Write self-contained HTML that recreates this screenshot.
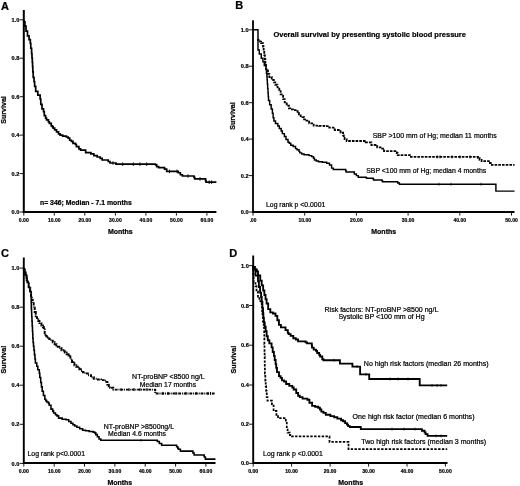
<!DOCTYPE html>
<html><head><meta charset="utf-8"><title>Survival curves</title>
<style>
html,body{margin:0;padding:0;background:#fff;}
body{width:520px;height:486px;overflow:hidden;font-family:"Liberation Sans",sans-serif;}
svg{display:block;}
svg text{font-family:"Liberation Sans",sans-serif;fill:#000;stroke:#000;stroke-width:0.22px;}
</style></head><body>
<svg width="520" height="486" viewBox="0 0 520 486">
<defs><filter id="soft" x="0" y="0" width="520" height="486" filterUnits="userSpaceOnUse"><feGaussianBlur stdDeviation="0.42"/></filter></defs>
<rect width="520" height="486" fill="#fff"/>
<g filter="url(#soft)">
<text x="1.0" y="9.5" font-size="11.0" font-weight="bold">A</text>
<path d="M23.8,10.0V212.0H216.4" fill="none" stroke="#000" stroke-width="2.0" stroke-linejoin="miter"/>
<path d="M19.6,19.8H23.8" stroke="#000" stroke-width="0.9"/>
<text x="19.4" y="21.9" font-size="6.0" font-weight="bold" text-anchor="end" textLength="7.8" lengthAdjust="spacingAndGlyphs" stroke="#000" stroke-width="0.2">1.0</text>
<path d="M19.6,58.2H23.8" stroke="#000" stroke-width="0.9"/>
<text x="19.4" y="60.3" font-size="6.0" font-weight="bold" text-anchor="end" textLength="7.8" lengthAdjust="spacingAndGlyphs" stroke="#000" stroke-width="0.2">0.8</text>
<path d="M19.6,96.7H23.8" stroke="#000" stroke-width="0.9"/>
<text x="19.4" y="98.8" font-size="6.0" font-weight="bold" text-anchor="end" textLength="7.8" lengthAdjust="spacingAndGlyphs" stroke="#000" stroke-width="0.2">0.6</text>
<path d="M19.6,135.1H23.8" stroke="#000" stroke-width="0.9"/>
<text x="19.4" y="137.2" font-size="6.0" font-weight="bold" text-anchor="end" textLength="7.8" lengthAdjust="spacingAndGlyphs" stroke="#000" stroke-width="0.2">0.4</text>
<path d="M19.6,173.6H23.8" stroke="#000" stroke-width="0.9"/>
<text x="19.4" y="175.7" font-size="6.0" font-weight="bold" text-anchor="end" textLength="7.8" lengthAdjust="spacingAndGlyphs" stroke="#000" stroke-width="0.2">0.2</text>
<path d="M19.6,212.0H23.8" stroke="#000" stroke-width="0.9"/>
<text x="19.4" y="214.1" font-size="6.0" font-weight="bold" text-anchor="end" textLength="7.8" lengthAdjust="spacingAndGlyphs" stroke="#000" stroke-width="0.2">0.0</text>
<path d="M23.8,212.0V215.6" stroke="#000" stroke-width="0.9"/>
<text x="23.8" y="222.1" font-size="6.0" font-weight="bold" text-anchor="middle" textLength="10.0" lengthAdjust="spacingAndGlyphs" stroke="#000" stroke-width="0.2">0.00</text>
<path d="M54.3,212.0V215.6" stroke="#000" stroke-width="0.9"/>
<text x="54.3" y="222.1" font-size="6.0" font-weight="bold" text-anchor="middle" textLength="12.6" lengthAdjust="spacingAndGlyphs" stroke="#000" stroke-width="0.2">10.00</text>
<path d="M84.8,212.0V215.6" stroke="#000" stroke-width="0.9"/>
<text x="84.8" y="222.1" font-size="6.0" font-weight="bold" text-anchor="middle" textLength="12.6" lengthAdjust="spacingAndGlyphs" stroke="#000" stroke-width="0.2">20.00</text>
<path d="M115.4,212.0V215.6" stroke="#000" stroke-width="0.9"/>
<text x="115.4" y="222.1" font-size="6.0" font-weight="bold" text-anchor="middle" textLength="12.6" lengthAdjust="spacingAndGlyphs" stroke="#000" stroke-width="0.2">30.00</text>
<path d="M145.9,212.0V215.6" stroke="#000" stroke-width="0.9"/>
<text x="145.9" y="222.1" font-size="6.0" font-weight="bold" text-anchor="middle" textLength="12.6" lengthAdjust="spacingAndGlyphs" stroke="#000" stroke-width="0.2">40.00</text>
<path d="M176.4,212.0V215.6" stroke="#000" stroke-width="0.9"/>
<text x="176.4" y="222.1" font-size="6.0" font-weight="bold" text-anchor="middle" textLength="12.6" lengthAdjust="spacingAndGlyphs" stroke="#000" stroke-width="0.2">50.00</text>
<path d="M206.9,212.0V215.6" stroke="#000" stroke-width="0.9"/>
<text x="206.9" y="222.1" font-size="6.0" font-weight="bold" text-anchor="middle" textLength="12.6" lengthAdjust="spacingAndGlyphs" stroke="#000" stroke-width="0.2">60.00</text>
<text x="6.2" y="110.0" font-size="7.1" font-weight="bold" text-anchor="middle" textLength="27.6" lengthAdjust="spacingAndGlyphs" transform="rotate(-90 6.2 110.0)">Survival</text>
<text x="120.3" y="233.8" font-size="7.0" font-weight="bold" text-anchor="middle" textLength="24.8" lengthAdjust="spacingAndGlyphs">Months</text>
<path d="M23.80,19.80L23.80,21.90L24.90,21.90L24.90,26.11L26.01,26.11L26.01,31.06L27.50,31.06L27.50,33.90L27.50,35.94L29.03,35.94L29.03,39.69L30.30,39.69L30.30,41.40L30.30,43.26L30.78,43.26L30.78,48.26L31.60,48.26L31.60,51.40L31.60,53.60L31.96,53.60L31.96,57.90L32.30,57.90L32.30,60.00L32.30,62.30L32.58,62.30L32.58,66.64L32.82,66.64L32.82,71.84L33.20,71.84L33.20,75.00L33.20,77.43L34.04,77.43L34.04,81.59L34.64,81.59L34.64,86.41L35.70,86.41L35.70,89.50L35.70,91.30L37.81,91.30L37.81,95.05L40.10,95.05L40.10,97.00L40.10,98.98L40.80,98.98L40.80,104.33L42.00,104.33L42.00,107.70L42.00,108.85L43.50,108.85L43.50,110.00L43.50,111.55L44.29,111.55L44.29,115.65L45.60,115.65L45.60,118.20L46.51,118.20L46.51,119.97L48.41,119.97L48.41,121.90L49.40,121.90L49.40,123.40L51.25,123.40L51.25,125.90L52.50,125.90L52.50,126.90L53.13,126.90L53.13,128.17L54.64,128.17L54.64,129.91L56.53,129.91L56.53,131.95L58.52,131.95L58.52,133.90L60.10,133.90L60.10,135.10L60.70,135.10L62.66,135.10L62.66,136.09L66.41,136.09L66.41,137.00L68.20,137.00L68.20,138.03L69.70,138.03L69.70,140.23L71.40,140.23L71.40,141.40L73.01,141.40L73.01,143.39L75.51,143.39L75.51,144.50L76.40,144.50L76.40,146.70L78.90,146.70L78.90,148.90L80.57,148.90L80.57,150.11L85.67,150.11L85.67,152.59L90.89,152.59L90.89,153.90L92.70,153.90L93.85,153.90L93.85,155.70L95.00,155.70L97.20,155.70L97.20,157.00L99.40,157.00L100.23,157.00L100.23,158.31L102.13,158.31L102.13,160.00L103.20,160.00L108.20,160.00L108.20,161.50L110.00,161.50L110.00,163.00L115.00,163.00L116.00,163.00L116.00,164.20L117.00,164.20L155.50,164.20L155.50,164.87L156.72,164.87L156.72,166.57L158.60,166.57L158.60,167.60L163.70,167.60L164.53,167.60L164.53,169.06L166.68,169.06L166.68,171.40L168.00,171.40L177.40,171.40L178.26,171.40L178.26,172.76L180.37,172.76L180.37,174.76L182.42,174.76L182.42,176.00L183.20,176.00L194.00,176.00L194.00,177.45L194.70,177.45L194.70,178.90L205.60,178.90L205.60,180.55L206.00,180.55L206.00,182.20L216.40,182.20" fill="none" stroke="#000" stroke-width="1.7" stroke-linejoin="miter"/>
<path d="M113.0,161.2V164.8M122.7,162.4V166.0M133.3,162.4V166.0M139.9,162.4V166.0M146.7,162.4V166.0M169.5,169.6V173.2M177.0,169.6V173.2M188.0,174.2V177.8M200.0,177.1V180.7M209.2,180.4V184.0M211.6,180.4V184.0" stroke="#000" stroke-width="0.9" fill="none"/>
<text x="40.0" y="205.0" font-size="6.9" font-weight="bold" textLength="91.8" lengthAdjust="spacingAndGlyphs">n= 346; Median - 7.1 months</text>
<text x="235.2" y="9.4" font-size="11.0" font-weight="bold">B</text>
<path d="M253.0,20.2V212.0H514.5" fill="none" stroke="#000" stroke-width="1.8" stroke-linejoin="miter"/>
<path d="M248.8,29.8H253.0" stroke="#000" stroke-width="0.9"/>
<text x="248.6" y="31.9" font-size="6.0" font-weight="bold" text-anchor="end" textLength="7.8" lengthAdjust="spacingAndGlyphs" stroke="#000" stroke-width="0.2">1.0</text>
<path d="M248.8,66.2H253.0" stroke="#000" stroke-width="0.9"/>
<text x="248.6" y="68.3" font-size="6.0" font-weight="bold" text-anchor="end" textLength="7.8" lengthAdjust="spacingAndGlyphs" stroke="#000" stroke-width="0.2">0.8</text>
<path d="M248.8,102.7H253.0" stroke="#000" stroke-width="0.9"/>
<text x="248.6" y="104.8" font-size="6.0" font-weight="bold" text-anchor="end" textLength="7.8" lengthAdjust="spacingAndGlyphs" stroke="#000" stroke-width="0.2">0.6</text>
<path d="M248.8,139.1H253.0" stroke="#000" stroke-width="0.9"/>
<text x="248.6" y="141.2" font-size="6.0" font-weight="bold" text-anchor="end" textLength="7.8" lengthAdjust="spacingAndGlyphs" stroke="#000" stroke-width="0.2">0.4</text>
<path d="M248.8,175.6H253.0" stroke="#000" stroke-width="0.9"/>
<text x="248.6" y="177.7" font-size="6.0" font-weight="bold" text-anchor="end" textLength="7.8" lengthAdjust="spacingAndGlyphs" stroke="#000" stroke-width="0.2">0.2</text>
<path d="M248.8,212.0H253.0" stroke="#000" stroke-width="0.9"/>
<text x="248.6" y="214.1" font-size="6.0" font-weight="bold" text-anchor="end" textLength="7.8" lengthAdjust="spacingAndGlyphs" stroke="#000" stroke-width="0.2">0.0</text>
<path d="M253.0,212.0V215.6" stroke="#000" stroke-width="0.9"/>
<text x="253.0" y="222.1" font-size="6.0" font-weight="bold" text-anchor="middle" textLength="6.6" lengthAdjust="spacingAndGlyphs" stroke="#000" stroke-width="0.2">.00</text>
<path d="M304.7,212.0V215.6" stroke="#000" stroke-width="0.9"/>
<text x="304.7" y="222.1" font-size="6.0" font-weight="bold" text-anchor="middle" textLength="12.6" lengthAdjust="spacingAndGlyphs" stroke="#000" stroke-width="0.2">10.00</text>
<path d="M356.4,212.0V215.6" stroke="#000" stroke-width="0.9"/>
<text x="356.4" y="222.1" font-size="6.0" font-weight="bold" text-anchor="middle" textLength="12.6" lengthAdjust="spacingAndGlyphs" stroke="#000" stroke-width="0.2">20.00</text>
<path d="M408.1,212.0V215.6" stroke="#000" stroke-width="0.9"/>
<text x="408.1" y="222.1" font-size="6.0" font-weight="bold" text-anchor="middle" textLength="12.6" lengthAdjust="spacingAndGlyphs" stroke="#000" stroke-width="0.2">30.00</text>
<path d="M459.8,212.0V215.6" stroke="#000" stroke-width="0.9"/>
<text x="459.8" y="222.1" font-size="6.0" font-weight="bold" text-anchor="middle" textLength="12.6" lengthAdjust="spacingAndGlyphs" stroke="#000" stroke-width="0.2">40.00</text>
<path d="M511.5,212.0V215.6" stroke="#000" stroke-width="0.9"/>
<text x="511.5" y="222.1" font-size="6.0" font-weight="bold" text-anchor="middle" textLength="12.6" lengthAdjust="spacingAndGlyphs" stroke="#000" stroke-width="0.2">50.00</text>
<text x="235.4" y="116.0" font-size="7.1" font-weight="bold" text-anchor="middle" textLength="27.6" lengthAdjust="spacingAndGlyphs" transform="rotate(-90 235.4 116.0)">Survival</text>
<text x="383.7" y="233.8" font-size="7.0" font-weight="bold" text-anchor="middle" textLength="24.8" lengthAdjust="spacingAndGlyphs">Months</text>
<path d="M253.00,29.80L258.00,29.80L258.00,48.50L258.00,50.04L259.29,50.04L259.29,53.96L261.28,53.96L261.28,58.30L262.93,58.30L262.93,61.88L264.28,61.88L264.28,65.54L266.00,65.54L266.00,67.60L266.00,69.50L266.46,69.50L266.46,73.20L266.90,73.20L266.90,75.00L266.90,76.45L267.10,76.45L267.10,79.86L267.36,79.86L267.36,83.97L267.65,83.97L267.65,88.63L268.00,88.63L268.00,92.83L268.22,92.83L268.22,96.55L268.50,96.55L268.50,98.60L268.50,100.44L269.66,100.44L269.66,104.68L271.17,104.68L271.17,109.04L272.40,109.04L272.40,111.00L272.40,113.19L273.13,113.19L273.13,117.69L273.90,117.69L273.90,120.00L273.90,121.03L275.48,121.03L275.48,123.57L277.82,123.57L277.82,126.04L279.30,126.04L279.30,127.00L279.30,128.51L281.17,128.51L281.17,131.00L282.38,131.00L282.38,133.60L284.37,133.60L284.37,136.53L285.99,136.53L285.99,139.47L288.01,139.47L288.01,142.15L289.30,142.15L289.30,143.20L290.76,143.20L290.76,145.25L293.16,145.25L293.16,146.57L295.55,146.57L295.55,148.60L297.00,148.60L297.00,149.76L299.02,149.76L299.02,151.35L299.77,151.35L299.77,152.89L301.70,152.89L301.70,154.00L304.08,154.00L304.08,154.76L309.08,154.76L309.08,155.60L311.70,155.60L311.70,156.64L313.47,156.64L313.47,158.25L314.45,158.25L314.45,159.91L316.30,159.91L316.30,161.00L318.49,161.00L318.49,161.76L322.28,161.76L322.28,162.32L326.69,162.32L326.69,163.30L329.50,163.30L329.50,165.01L331.59,165.01L331.59,168.11L333.30,168.11L333.30,169.50L345.70,169.50L345.70,170.75L346.10,170.75L346.10,172.00L353.10,172.00L354.28,172.00L354.28,174.05L356.36,174.05L356.36,175.61L358.23,175.61L358.23,177.30L359.20,177.30L366.20,177.30L366.20,177.75L366.60,177.75L366.60,178.20L373.20,178.20L373.20,179.05L373.60,179.05L373.60,179.90L382.00,179.90L382.00,180.80L382.50,180.80L382.50,181.70L397.70,181.70L397.70,182.95L399.40,182.95L399.40,184.20L495.90,184.20L495.90,191.10L514.50,191.10" fill="none" stroke="#000" stroke-width="1.45" stroke-linejoin="miter"/>
<path d="M258.00,38.80L258.00,39.88L260.04,39.88L260.04,41.55L261.15,41.55L261.15,43.12L263.00,43.12L263.00,44.10L263.00,46.51L263.67,46.51L263.67,50.96L264.23,50.96L264.23,55.13L264.83,55.13L264.83,59.27L265.38,59.27L265.38,63.48L266.00,63.48L266.00,65.70L266.00,69.10L267.90,69.10L267.90,72.50L267.90,73.95L269.30,73.95L269.30,75.40L269.30,76.99L271.71,76.99L271.71,79.98L273.83,79.98L273.83,82.33L275.27,82.33L275.27,84.75L277.50,84.75L277.50,87.41L279.30,87.41L279.30,88.60L279.30,90.11L280.63,90.11L280.63,94.46L283.12,94.46L283.12,99.10L284.70,99.10L284.70,100.90L284.70,102.44L286.70,102.44L286.70,105.69L288.91,105.69L288.91,108.40L290.20,108.40L290.20,109.40L292.90,109.40L292.90,110.20L295.60,110.20L295.60,111.23L297.66,111.23L297.66,112.84L298.83,112.84L298.83,114.34L300.66,114.34L300.66,116.18L302.50,116.18L302.50,117.10L304.06,117.10L304.06,119.38L306.49,119.38L306.49,120.64L309.18,120.64L309.18,123.30L311.00,123.30L313.70,123.30L313.70,125.60L316.40,125.60L319.01,125.60L319.01,125.89L324.36,125.89L324.36,126.20L327.10,126.20L329.28,126.20L329.28,127.72L334.73,127.72L334.73,130.00L338.00,130.00L340.55,130.00L340.55,132.70L343.10,132.70L343.10,135.35L343.80,135.35L343.80,138.00L344.59,138.00L344.59,139.16L346.64,139.16L346.64,141.00L347.90,141.00L363.60,141.00L365.70,141.00L365.70,142.47L371.40,142.47L371.40,145.00L375.00,145.00L377.19,145.00L377.19,147.36L380.53,147.36L380.53,148.61L384.00,148.61L384.00,151.10L386.30,151.10L396.80,151.10L396.80,153.10L397.70,153.10L397.70,155.10L408.20,155.10L409.95,155.10L409.95,156.90L411.70,156.90L478.00,156.90L478.00,157.81L479.53,157.81L479.53,159.96L481.60,159.96L481.60,161.20L489.90,161.20L489.90,163.00L491.80,163.00L491.80,164.80L514.50,164.80" fill="none" stroke="#000" stroke-width="1.8" stroke-linejoin="miter" stroke-dasharray="2.6 1.1"/>
<path d="M439.0,182.8V185.6M451.0,182.8V185.6M481.0,182.8V185.6" stroke="#000" stroke-width="0.7" fill="none"/>
<path d="M437.0,155.4V158.4M440.0,155.4V158.4M452.0,155.4V158.4M460.0,155.4V158.4M470.0,155.4V158.4" stroke="#000" stroke-width="0.9" fill="none"/>
<text x="273.5" y="37.1" font-size="7.4" font-weight="bold" textLength="192.4" lengthAdjust="spacingAndGlyphs">Overall survival by presenting systolic blood pressure</text>
<text x="372.7" y="137.6" font-size="7.0" textLength="124.0" lengthAdjust="spacingAndGlyphs">SBP &gt;100 mm of Hg; median 11 months</text>
<text x="366.2" y="173.3" font-size="7.0" textLength="120.0" lengthAdjust="spacingAndGlyphs">SBP &lt;100 mm of Hg; median 4 months</text>
<text x="266.0" y="206.8" font-size="6.9" textLength="59.3" lengthAdjust="spacingAndGlyphs">Log rank p &lt;0.0001</text>
<text x="1.0" y="257.2" font-size="11.0" font-weight="bold">C</text>
<path d="M23.8,257.5V463.0H215.5" fill="none" stroke="#000" stroke-width="1.9" stroke-linejoin="miter"/>
<path d="M19.6,268.1H23.8" stroke="#000" stroke-width="0.9"/>
<text x="19.4" y="270.2" font-size="6.0" font-weight="bold" text-anchor="end" textLength="7.8" lengthAdjust="spacingAndGlyphs" stroke="#000" stroke-width="0.2">1.0</text>
<path d="M19.6,307.2H23.8" stroke="#000" stroke-width="0.9"/>
<text x="19.4" y="309.3" font-size="6.0" font-weight="bold" text-anchor="end" textLength="7.8" lengthAdjust="spacingAndGlyphs" stroke="#000" stroke-width="0.2">0.8</text>
<path d="M19.6,346.2H23.8" stroke="#000" stroke-width="0.9"/>
<text x="19.4" y="348.3" font-size="6.0" font-weight="bold" text-anchor="end" textLength="7.8" lengthAdjust="spacingAndGlyphs" stroke="#000" stroke-width="0.2">0.6</text>
<path d="M19.6,385.2H23.8" stroke="#000" stroke-width="0.9"/>
<text x="19.4" y="387.4" font-size="6.0" font-weight="bold" text-anchor="end" textLength="7.8" lengthAdjust="spacingAndGlyphs" stroke="#000" stroke-width="0.2">0.4</text>
<path d="M19.6,424.3H23.8" stroke="#000" stroke-width="0.9"/>
<text x="19.4" y="426.4" font-size="6.0" font-weight="bold" text-anchor="end" textLength="7.8" lengthAdjust="spacingAndGlyphs" stroke="#000" stroke-width="0.2">0.2</text>
<path d="M19.6,463.4H23.8" stroke="#000" stroke-width="0.9"/>
<text x="19.4" y="465.5" font-size="6.0" font-weight="bold" text-anchor="end" textLength="7.8" lengthAdjust="spacingAndGlyphs" stroke="#000" stroke-width="0.2">0.0</text>
<path d="M23.8,463.0V466.6" stroke="#000" stroke-width="0.9"/>
<text x="23.8" y="473.1" font-size="6.0" font-weight="bold" text-anchor="middle" textLength="10.0" lengthAdjust="spacingAndGlyphs" stroke="#000" stroke-width="0.2">0.00</text>
<path d="M54.2,463.0V466.6" stroke="#000" stroke-width="0.9"/>
<text x="54.2" y="473.1" font-size="6.0" font-weight="bold" text-anchor="middle" textLength="12.6" lengthAdjust="spacingAndGlyphs" stroke="#000" stroke-width="0.2">10.00</text>
<path d="M84.5,463.0V466.6" stroke="#000" stroke-width="0.9"/>
<text x="84.5" y="473.1" font-size="6.0" font-weight="bold" text-anchor="middle" textLength="12.6" lengthAdjust="spacingAndGlyphs" stroke="#000" stroke-width="0.2">20.00</text>
<path d="M114.9,463.0V466.6" stroke="#000" stroke-width="0.9"/>
<text x="114.9" y="473.1" font-size="6.0" font-weight="bold" text-anchor="middle" textLength="12.6" lengthAdjust="spacingAndGlyphs" stroke="#000" stroke-width="0.2">30.00</text>
<path d="M145.2,463.0V466.6" stroke="#000" stroke-width="0.9"/>
<text x="145.2" y="473.1" font-size="6.0" font-weight="bold" text-anchor="middle" textLength="12.6" lengthAdjust="spacingAndGlyphs" stroke="#000" stroke-width="0.2">40.00</text>
<path d="M175.6,463.0V466.6" stroke="#000" stroke-width="0.9"/>
<text x="175.6" y="473.1" font-size="6.0" font-weight="bold" text-anchor="middle" textLength="12.6" lengthAdjust="spacingAndGlyphs" stroke="#000" stroke-width="0.2">50.00</text>
<path d="M205.9,463.0V466.6" stroke="#000" stroke-width="0.9"/>
<text x="205.9" y="473.1" font-size="6.0" font-weight="bold" text-anchor="middle" textLength="12.6" lengthAdjust="spacingAndGlyphs" stroke="#000" stroke-width="0.2">60.00</text>
<text x="6.2" y="359.6" font-size="7.1" font-weight="bold" text-anchor="middle" textLength="27.6" lengthAdjust="spacingAndGlyphs" transform="rotate(-90 6.2 359.6)">Survival</text>
<text x="119.8" y="484.9" font-size="7.0" font-weight="bold" text-anchor="middle" textLength="24.8" lengthAdjust="spacingAndGlyphs">Months</text>
<path d="M23.80,267.80L23.80,269.83L24.94,269.83L24.94,274.67L26.50,274.67L26.50,278.61L27.14,278.61L27.14,282.41L28.63,282.41L28.63,287.37L29.92,287.37L29.92,291.79L31.10,291.79L31.10,293.90L31.10,296.46L31.18,296.46L31.18,301.03L31.25,301.03L31.25,304.72L31.30,304.72L31.30,306.40L31.30,309.03L31.57,309.03L31.57,313.05L31.72,313.05L31.72,316.78L31.96,316.78L31.96,321.20L32.18,321.20L32.18,326.12L32.48,326.12L32.48,331.21L32.71,331.21L32.71,334.57L32.83,334.57L32.83,338.29L33.10,338.29L33.10,340.90L33.10,342.52L33.47,342.52L33.47,346.22L33.95,346.22L33.95,350.31L34.41,350.31L34.41,354.63L34.94,354.63L34.94,358.97L35.40,358.97L35.40,361.00L35.40,362.90L36.77,362.90L36.77,366.24L37.81,366.24L37.81,369.74L39.30,369.74L39.30,371.80L39.30,373.33L39.81,373.33L39.81,377.57L40.71,377.57L40.71,382.40L41.42,382.40L41.42,386.85L42.20,386.85L42.20,389.20L42.20,391.18L43.41,391.18L43.41,395.49L44.85,395.49L44.85,399.22L45.70,399.22L45.70,400.60L46.68,400.60L46.68,402.05L48.43,402.05L48.43,403.20L49.20,403.20L49.20,405.19L50.97,405.19L50.97,409.14L52.70,409.14L52.70,411.10L53.64,411.10L53.64,412.97L55.48,412.97L55.48,414.79L56.93,414.79L56.93,415.88L58.59,415.88L58.59,418.10L59.70,418.10L62.15,418.10L62.15,419.15L66.10,419.15L66.10,419.80L67.60,419.80L68.75,419.80L68.75,421.58L70.95,421.58L70.95,423.19L72.94,423.19L72.94,424.65L74.69,424.65L74.69,425.90L75.50,425.90L76.86,425.90L76.86,427.27L79.67,427.27L79.67,428.74L82.66,428.74L82.66,430.30L84.20,430.30L85.53,430.30L85.53,430.76L89.17,430.76L89.17,431.55L93.09,431.55L93.09,432.10L94.70,432.10L94.70,432.85L95.82,432.85L95.82,434.61L97.35,434.61L97.35,436.72L99.01,436.72L99.01,439.01L100.80,439.01L100.80,440.20L156.50,440.20L157.34,440.20L157.34,441.56L159.34,441.56L159.34,443.44L161.65,443.44L161.65,445.30L162.80,445.30L176.60,445.30L176.60,446.80L177.80,446.80L177.80,448.30L178.49,448.30L178.49,449.32L180.39,449.32L180.39,451.10L181.60,451.10L192.90,451.10L192.90,453.00L194.10,453.00L194.10,454.90L204.20,454.90L204.20,457.00L205.40,457.00L205.40,459.10L215.50,459.10" fill="none" stroke="#000" stroke-width="1.55" stroke-linejoin="miter"/>
<path d="M23.80,267.80L23.80,269.11L24.53,269.11L24.53,272.44L25.67,272.44L25.67,276.29L26.68,276.29L26.68,280.25L27.89,280.25L27.89,283.90L28.72,283.90L28.72,288.20L30.29,288.20L30.29,292.45L31.10,292.45L31.10,293.90L31.10,296.05L32.06,296.05L32.06,299.65L32.71,299.65L32.71,303.24L33.67,303.24L33.67,307.69L34.70,307.69L34.70,310.00L34.70,311.93L35.74,311.93L35.74,316.18L37.00,316.18L37.00,318.50L37.00,319.35L38.27,319.35L38.27,321.00L39.45,321.00L39.45,323.13L41.43,323.13L41.43,325.48L42.93,325.48L42.93,327.15L43.90,327.15L43.90,327.80L43.90,329.49L44.68,329.49L44.68,332.94L45.50,332.94L45.50,334.70L46.32,334.70L46.32,336.23L47.77,336.23L47.77,337.40L49.24,337.40L49.24,338.96L51.02,338.96L51.02,340.73L52.76,340.73L52.76,342.20L54.66,342.20L54.66,344.26L56.43,344.26L56.43,345.50L57.10,345.50L57.80,345.50L57.80,346.65L59.31,346.65L59.31,347.97L61.48,347.97L61.48,350.22L63.50,350.22L63.50,351.30L64.84,351.30L64.84,352.41L66.60,352.41L66.60,354.19L68.54,354.19L68.54,355.60L69.40,355.60L69.40,356.52L70.33,356.52L70.33,359.11L72.02,359.11L72.02,362.04L73.30,362.04L73.30,363.30L74.39,363.30L74.39,365.28L76.28,365.28L76.28,366.72L77.84,366.72L77.84,368.10L79.23,368.10L79.23,369.24L80.83,369.24L80.83,371.00L81.80,371.00L82.97,371.00L82.97,372.29L85.25,372.29L85.25,373.52L87.88,373.52L87.88,375.20L89.40,375.20L91.03,375.20L91.03,377.29L93.83,377.29L93.83,378.80L95.00,378.80L96.92,378.80L96.92,379.41L101.00,379.41L101.00,380.10L104.73,380.10L104.73,380.60L106.30,380.60L106.30,381.88L107.42,381.88L107.42,384.73L108.80,384.73L108.80,386.30L110.11,386.30L110.11,387.68L113.26,387.68L113.26,389.60L115.10,389.60L155.20,389.60L155.20,393.40L215.50,393.40" fill="none" stroke="#000" stroke-width="1.95" stroke-linejoin="miter" stroke-dasharray="2.8 0.9 1.0 0.9"/>
<path d="M121.0,388.1V391.1M129.0,388.1V391.1M134.0,388.1V391.1M140.0,388.1V391.1M147.0,388.1V391.1M163.0,391.9V394.9M168.0,391.9V394.9M176.0,391.9V394.9M186.0,391.9V394.9M196.0,391.9V394.9M208.0,391.9V394.9M210.5,391.9V394.9" stroke="#000" stroke-width="1.0" fill="none"/>
<path d="M141.0,438.9V441.5" stroke="#000" stroke-width="0.7" fill="none"/>
<text x="168.4" y="379.3" font-size="7.0" text-anchor="middle" textLength="72.6" lengthAdjust="spacingAndGlyphs">NT-proBNP &lt;8500 ng/L</text>
<text x="167.9" y="386.6" font-size="7.0" text-anchor="middle" textLength="56.4" lengthAdjust="spacingAndGlyphs">Median 17 months</text>
<text x="138.9" y="429.0" font-size="7.0" text-anchor="middle" textLength="70.2" lengthAdjust="spacingAndGlyphs">NT-proBNP &gt;8500ng/L</text>
<text x="137.0" y="436.2" font-size="7.0" text-anchor="middle" textLength="58.0" lengthAdjust="spacingAndGlyphs">Median 4.6 months</text>
<text x="27.5" y="456.3" font-size="6.9" textLength="57.5" lengthAdjust="spacingAndGlyphs">Log rank p&lt;0.0001</text>
<text x="229.3" y="257.2" font-size="11.0" font-weight="bold">D</text>
<path d="M253.2,255.5V463.0H447.5" fill="none" stroke="#000" stroke-width="1.9" stroke-linejoin="miter"/>
<path d="M249.0,265.6H253.2" stroke="#000" stroke-width="0.9"/>
<text x="248.8" y="267.7" font-size="6.0" font-weight="bold" text-anchor="end" textLength="7.8" lengthAdjust="spacingAndGlyphs" stroke="#000" stroke-width="0.2">1.0</text>
<path d="M249.0,305.5H253.2" stroke="#000" stroke-width="0.9"/>
<text x="248.8" y="307.6" font-size="6.0" font-weight="bold" text-anchor="end" textLength="7.8" lengthAdjust="spacingAndGlyphs" stroke="#000" stroke-width="0.2">0.8</text>
<path d="M249.0,345.2H253.2" stroke="#000" stroke-width="0.9"/>
<text x="248.8" y="347.3" font-size="6.0" font-weight="bold" text-anchor="end" textLength="7.8" lengthAdjust="spacingAndGlyphs" stroke="#000" stroke-width="0.2">0.6</text>
<path d="M249.0,385.0H253.2" stroke="#000" stroke-width="0.9"/>
<text x="248.8" y="387.1" font-size="6.0" font-weight="bold" text-anchor="end" textLength="7.8" lengthAdjust="spacingAndGlyphs" stroke="#000" stroke-width="0.2">0.4</text>
<path d="M249.0,424.2H253.2" stroke="#000" stroke-width="0.9"/>
<text x="248.8" y="426.3" font-size="6.0" font-weight="bold" text-anchor="end" textLength="7.8" lengthAdjust="spacingAndGlyphs" stroke="#000" stroke-width="0.2">0.2</text>
<path d="M249.0,463.3H253.2" stroke="#000" stroke-width="0.9"/>
<text x="248.8" y="465.4" font-size="6.0" font-weight="bold" text-anchor="end" textLength="7.8" lengthAdjust="spacingAndGlyphs" stroke="#000" stroke-width="0.2">0.0</text>
<path d="M253.2,463.0V466.6" stroke="#000" stroke-width="0.9"/>
<text x="253.2" y="473.1" font-size="6.0" font-weight="bold" text-anchor="middle" textLength="10.0" lengthAdjust="spacingAndGlyphs" stroke="#000" stroke-width="0.2">0.00</text>
<path d="M291.6,463.0V466.6" stroke="#000" stroke-width="0.9"/>
<text x="291.6" y="473.1" font-size="6.0" font-weight="bold" text-anchor="middle" textLength="12.6" lengthAdjust="spacingAndGlyphs" stroke="#000" stroke-width="0.2">10.00</text>
<path d="M330.1,463.0V466.6" stroke="#000" stroke-width="0.9"/>
<text x="330.1" y="473.1" font-size="6.0" font-weight="bold" text-anchor="middle" textLength="12.6" lengthAdjust="spacingAndGlyphs" stroke="#000" stroke-width="0.2">20.00</text>
<path d="M368.6,463.0V466.6" stroke="#000" stroke-width="0.9"/>
<text x="368.6" y="473.1" font-size="6.0" font-weight="bold" text-anchor="middle" textLength="12.6" lengthAdjust="spacingAndGlyphs" stroke="#000" stroke-width="0.2">30.00</text>
<path d="M407.0,463.0V466.6" stroke="#000" stroke-width="0.9"/>
<text x="407.0" y="473.1" font-size="6.0" font-weight="bold" text-anchor="middle" textLength="12.6" lengthAdjust="spacingAndGlyphs" stroke="#000" stroke-width="0.2">40.00</text>
<path d="M445.4,463.0V466.6" stroke="#000" stroke-width="0.9"/>
<text x="445.4" y="473.1" font-size="6.0" font-weight="bold" text-anchor="middle" textLength="12.6" lengthAdjust="spacingAndGlyphs" stroke="#000" stroke-width="0.2">50.00</text>
<text x="235.6" y="359.6" font-size="7.1" font-weight="bold" text-anchor="middle" textLength="27.6" lengthAdjust="spacingAndGlyphs" transform="rotate(-90 235.6 359.6)">Survival</text>
<text x="350.7" y="484.9" font-size="7.0" font-weight="bold" text-anchor="middle" textLength="24.8" lengthAdjust="spacingAndGlyphs">Months</text>
<path d="M253.00,265.70L253.00,266.99L254.98,266.99L254.98,269.47L256.82,269.47L256.82,271.43L258.00,271.43L258.00,272.20L258.00,275.38L260.24,275.38L260.24,280.63L261.70,280.63L261.70,282.70L261.70,285.44L263.15,285.44L263.15,290.50L264.38,290.50L264.38,295.04L265.55,295.04L265.55,299.22L266.60,299.22L266.60,301.20L266.60,303.52L268.15,303.52L268.15,309.07L270.30,309.07L270.30,312.30L272.90,312.30L272.90,313.50L275.50,313.50L275.50,315.84L277.32,315.84L277.32,320.27L278.94,320.27L278.94,324.88L280.90,324.88L280.90,327.40L285.50,327.40L285.50,330.10L287.80,330.10L287.80,332.80L288.64,332.80L288.64,334.09L290.64,334.09L290.64,335.89L293.30,335.89L293.30,338.20L294.80,338.20L295.80,338.20L295.80,339.54L298.10,339.54L298.10,341.30L299.40,341.30L305.60,341.30L305.60,342.35L307.10,342.35L307.10,343.40L311.80,343.40L311.80,345.05L312.00,345.05L312.00,346.70L312.00,347.58L313.71,347.58L313.71,349.63L316.00,349.63L316.00,350.80L317.14,350.80L317.14,353.03L319.19,353.03L319.19,354.80L320.10,354.80L320.10,356.52L322.27,356.52L322.27,359.22L323.50,359.22L323.50,360.20L339.90,360.20L339.90,363.60L352.40,363.60L352.40,366.60L360.10,366.60L360.10,374.30L369.20,374.30L369.20,379.00L419.70,379.00L419.70,385.40L447.20,385.40" fill="none" stroke="#000" stroke-width="1.85" stroke-linejoin="miter"/>
<path d="M253.00,265.70L253.00,268.95L255.50,268.95L255.50,272.20L255.50,275.60L258.00,275.60L258.00,279.00L258.00,281.38L258.90,281.38L258.90,286.96L260.09,286.96L260.09,292.68L261.05,292.68L261.05,296.96L261.70,296.96L261.70,298.70L261.70,301.85L262.40,301.85L262.40,305.00L262.40,308.27L263.04,308.27L263.04,313.19L263.36,313.19L263.36,317.62L263.90,317.62L263.90,320.40L263.90,322.34L264.71,322.34L264.71,326.60L265.69,326.60L265.69,331.22L266.65,331.22L266.65,336.25L267.80,336.25L267.80,339.00L267.80,340.28L269.36,340.28L269.36,343.38L271.60,343.38L271.60,345.20L271.60,347.40L272.71,347.40L272.71,351.99L273.91,351.99L273.91,355.94L274.70,355.94L274.70,357.50L274.70,360.01L275.62,360.01L275.62,364.15L276.22,364.15L276.22,367.89L277.00,367.89L277.00,370.00L277.00,372.16L278.97,372.16L278.97,376.11L280.60,376.11L280.60,377.90L281.98,377.90L281.98,380.30L284.02,380.30L284.02,381.46L286.14,381.46L286.14,384.00L287.60,384.00L289.27,384.00L289.27,385.92L292.32,385.92L292.32,387.50L293.70,387.50L293.70,389.49L296.23,389.49L296.23,392.96L298.11,392.96L298.11,395.77L299.80,395.77L299.80,397.10L302.56,397.10L302.56,398.60L307.36,398.60L307.36,399.70L309.40,399.70L309.40,402.75L312.10,402.75L312.10,405.80L315.15,405.80L315.15,406.70L318.20,406.70L318.20,407.70L319.91,407.70L319.91,409.54L321.33,409.54L321.33,411.59L323.40,411.59L323.40,412.80L325.80,412.80L325.80,414.70L328.20,414.70L330.40,414.70L330.40,416.17L334.15,416.17L334.15,417.20L335.70,417.20L337.36,417.20L337.36,418.55L341.06,418.55L341.06,420.20L343.10,420.20L343.10,421.20L345.11,421.20L345.11,423.14L346.98,423.14L346.98,424.64L348.09,424.64L348.09,426.10L349.90,426.10L349.90,427.00L360.80,427.00L360.80,429.10L421.90,429.10L421.90,430.75L424.60,430.75L424.60,432.40L425.56,432.40L425.56,434.05L427.61,434.05L427.61,435.90L428.70,435.90L447.20,435.90" fill="none" stroke="#000" stroke-width="1.85" stroke-linejoin="miter"/>
<path d="M253.00,265.70L253.00,268.76L253.25,268.76L253.25,273.92L253.43,273.92L253.43,278.11L253.60,278.11L253.60,280.20L253.60,282.10L255.50,282.10L255.50,284.00L255.50,286.21L256.50,286.21L256.50,291.71L258.00,291.71L258.00,295.00L258.00,296.69L259.44,296.69L259.44,301.04L261.70,301.04L261.70,303.70L261.70,306.51L262.17,306.51L262.17,313.61L262.90,313.61L262.90,317.90L262.90,321.57L263.71,321.57L263.71,327.47L264.20,327.47L264.20,329.70L264.20,333.11L264.32,333.11L264.32,338.25L264.38,338.25L264.38,344.05L264.52,344.05L264.52,351.24L264.63,351.24L264.63,356.71L264.71,356.71L264.71,361.38L264.79,361.38L264.79,366.86L264.90,366.86L264.90,370.00L264.90,373.60L265.31,373.60L265.31,380.60L265.70,380.60L265.70,384.00L265.70,386.15L266.17,386.15L266.17,390.88L266.73,390.88L266.73,397.03L267.50,397.03L267.50,400.60L271.90,400.60L271.90,404.10L273.60,404.10L273.60,407.60L273.60,410.97L276.42,410.97L276.42,416.22L278.00,416.22L278.00,418.10L285.80,418.10L285.80,421.67L286.78,421.67L286.78,428.22L287.60,428.22L287.60,431.20L287.60,432.52L289.84,432.52L289.84,435.12L292.00,435.12L292.00,436.40L329.50,436.40L329.50,441.90L348.50,441.90L348.50,449.20L447.20,449.20" fill="none" stroke="#000" stroke-width="1.75" stroke-linejoin="miter" stroke-dasharray="2.4 1.4"/>
<path d="M334.0,358.8V361.6M357.0,365.2V368.0M366.0,372.9V375.7M390.0,377.6V380.4M398.0,377.6V380.4M408.0,377.6V380.4M432.0,384.0V386.8M437.0,384.0V386.8M441.0,384.0V386.8" stroke="#000" stroke-width="0.8" fill="none"/>
<path d="M392.0,427.7V430.5M404.0,427.7V430.5M415.0,427.7V430.5M436.0,434.5V437.3M441.0,434.5V437.3" stroke="#000" stroke-width="0.8" fill="none"/>
<text x="324.5" y="311.6" font-size="7.0" textLength="113.9" lengthAdjust="spacingAndGlyphs">Risk factors: NT-proBNP &gt;8500 ng/L</text>
<text x="338.4" y="318.9" font-size="7.0" textLength="86.2" lengthAdjust="spacingAndGlyphs">Systolic BP &lt;100 mm of Hg</text>
<text x="363.8" y="366.4" font-size="7.0" textLength="124.8" lengthAdjust="spacingAndGlyphs">No high risk factors (median 26 months)</text>
<text x="352.6" y="418.8" font-size="7.0" textLength="121.9" lengthAdjust="spacingAndGlyphs">One high risk factor (median 6 months)</text>
<text x="361.3" y="443.8" font-size="7.0" textLength="124.9" lengthAdjust="spacingAndGlyphs">Two high risk factors (median 3 months)</text>
<text x="263.1" y="455.9" font-size="6.9" textLength="59.7" lengthAdjust="spacingAndGlyphs">Log rank p &lt;0.0001</text>
</g>
</svg>
</body></html>
